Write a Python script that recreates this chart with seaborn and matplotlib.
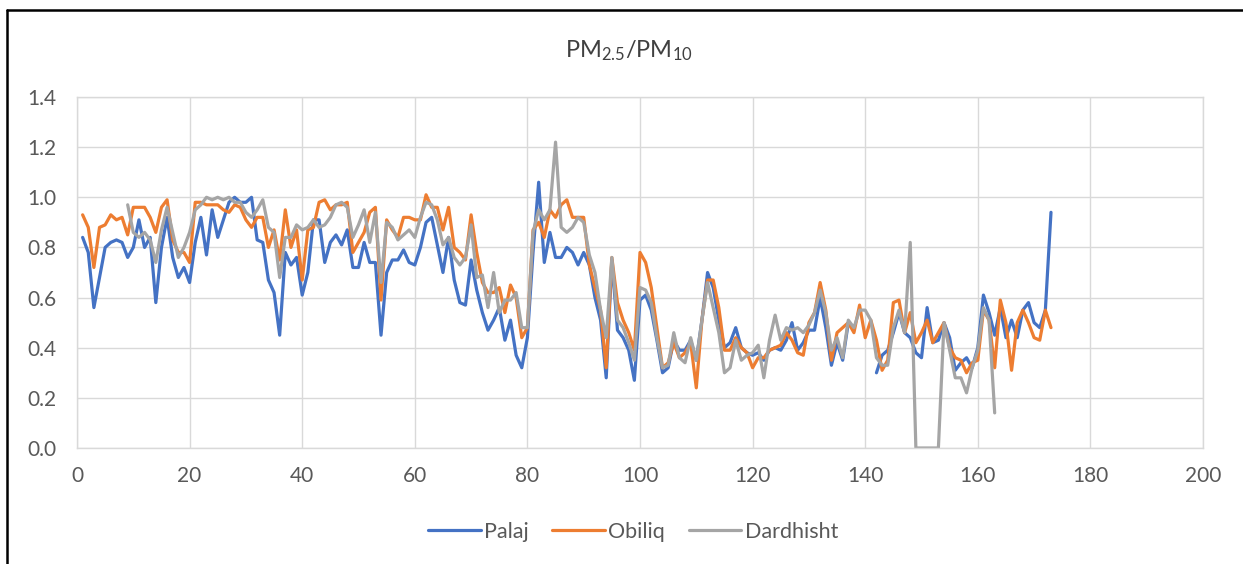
import numpy as np
import pandas as pd
import matplotlib
matplotlib.use("Agg")
import matplotlib.pyplot as plt
import seaborn as sns
from matplotlib.lines import Line2D

# ---------------- data ----------------
nan = np.nan
palaj_x = list(range(1, 174))
palaj = [0.84, 0.78, 0.56, 0.68, 0.80, 0.82, 0.83, 0.82, 0.76, 0.80,
         0.91, 0.80, 0.84, 0.58, 0.80, 0.92, 0.76, 0.68, 0.72, 0.66,
         0.82, 0.92, 0.77, 0.95, 0.84, 0.91, 0.98, 1.00, 0.98, 0.98,
         1.00, 0.83, 0.82, 0.67, 0.62, 0.45, 0.78, 0.73, 0.76, 0.61,
         0.70, 0.91, 0.91, 0.74, 0.82, 0.85, 0.81, 0.87, 0.72, 0.72,
         0.82, 0.74, 0.74, 0.45, 0.70, 0.75, 0.75, 0.79, 0.74, 0.73,
         0.80, 0.90, 0.92, 0.81, 0.70, 0.84, 0.67, 0.58, 0.57, 0.75,
         0.63, 0.54, 0.47, 0.51, 0.56, 0.43, 0.51, 0.37, 0.32, 0.44,
         0.78, 1.06, 0.74, 0.86, 0.76, 0.76, 0.80, 0.78, 0.73, 0.78,
         0.73, 0.60, 0.51, 0.28, 0.75, 0.47, 0.44, 0.39, 0.27, 0.59,
         0.61, 0.55, 0.43, 0.30, 0.32, 0.43, 0.39, 0.39, 0.43, 0.35,
         0.51, 0.70, 0.64, 0.51, 0.40, 0.42, 0.48, 0.40, 0.38, 0.37,
         0.38, 0.35, 0.39, 0.40, 0.39, 0.43, 0.50, 0.39, 0.42, 0.47,
         0.47, 0.60, 0.48, 0.33, 0.42, 0.35, 0.50, 0.47, nan, nan,
         nan, 0.30, 0.37, 0.39, 0.46, 0.54, 0.46, 0.44, 0.38, 0.36,
         0.56, 0.42, 0.43, 0.50, 0.44, 0.31, 0.34, 0.36, 0.32, 0.40,
         0.61, 0.54, 0.45, 0.56, 0.44, 0.51, 0.44, 0.55, 0.58, 0.50,
         0.48, 0.55, 0.94]

obiliq_x = list(range(1, 174))
obiliq = [0.93, 0.88, 0.72, 0.88, 0.89, 0.93, 0.91, 0.92, 0.85, 0.96,
          0.96, 0.96, 0.92, 0.86, 0.96, 0.99, 0.83, 0.78, 0.78, 0.74,
          0.98, 0.98, 0.97, 0.97, 0.97, 0.95, 0.94, 0.97, 0.96, 0.91,
          0.88, 0.92, 0.92, 0.80, 0.87, 0.75, 0.95, 0.80, 0.87, 0.67,
          0.87, 0.88, 0.98, 0.99, 0.95, 0.97, 0.97, 0.98, 0.78, 0.82,
          0.86, 0.94, 0.96, 0.59, 0.91, 0.87, 0.84, 0.92, 0.92, 0.91,
          0.91, 1.01, 0.96, 0.96, 0.87, 0.96, 0.80, 0.78, 0.75, 0.93,
          0.78, 0.66, 0.62, 0.62, 0.64, 0.54, 0.65, 0.60, 0.44, 0.48,
          0.87, 0.90, 0.84, 0.95, 0.92, 0.97, 0.99, 0.92, 0.92, 0.92,
          0.73, 0.64, 0.55, 0.32, 0.76, 0.58, 0.51, 0.46, 0.39, 0.78,
          0.74, 0.64, 0.48, 0.32, 0.34, 0.42, 0.36, 0.38, 0.42, 0.24,
          0.51, 0.67, 0.67, 0.56, 0.39, 0.39, 0.44, 0.40, 0.38, 0.32,
          0.36, 0.36, 0.39, 0.40, 0.41, 0.46, 0.43, 0.38, 0.37, 0.50,
          0.54, 0.66, 0.55, 0.35, 0.46, 0.48, 0.50, 0.46, 0.57, 0.44,
          0.51, 0.43, 0.31, 0.35, 0.58, 0.59, 0.46, 0.54, 0.42, 0.46,
          0.51, 0.42, 0.46, 0.50, 0.40, 0.36, 0.35, 0.30, 0.34, 0.35,
          0.55, 0.51, 0.32, 0.59, 0.50, 0.31, 0.50, 0.55, 0.50, 0.44,
          0.43, 0.55, 0.48]

dardhisht_x = list(range(9, 164))
dardhisht = [0.97, 0.86, 0.84, 0.86, 0.83, 0.74, 0.87, 0.96, 0.86, 0.76,
             0.80, 0.86, 0.95, 0.97, 1.00, 0.99, 1.00, 0.99, 1.00, 0.98,
             0.98, 0.94, 0.92, 0.95, 0.99, 0.88, 0.86, 0.68, 0.84, 0.84,
             0.89, 0.87, 0.88, 0.91, 0.88, 0.89, 0.92, 0.97, 0.98, 0.96,
             0.84, 0.89, 0.95, 0.82, 0.94, 0.66, 0.90, 0.88, 0.83, 0.85,
             0.87, 0.84, 0.92, 0.98, 0.97, 0.91, 0.81, 0.84, 0.76, 0.73,
             0.76, 0.89, 0.68, 0.69, 0.56, 0.70, 0.54, 0.59, 0.59, 0.62,
             0.48, 0.48, 0.86, 0.95, 0.91, 0.95, 1.22, 0.88, 0.86, 0.88,
             0.92, 0.90, 0.77, 0.70, 0.55, 0.44, 0.76, 0.51, 0.48, 0.42,
             0.35, 0.64, 0.63, 0.58, 0.44, 0.32, 0.33, 0.46, 0.36, 0.34,
             0.44, 0.35, 0.51, 0.66, 0.56, 0.46, 0.30, 0.32, 0.43, 0.35,
             0.37, 0.38, 0.41, 0.28, 0.43, 0.53, 0.43, 0.48, 0.47, 0.48,
             0.46, 0.49, 0.54, 0.63, 0.54, 0.39, 0.44, 0.36, 0.51, 0.48,
             0.55, 0.55, 0.51, 0.36, 0.33, 0.33, 0.48, 0.55, 0.46, 0.82,
             0.00, 0.00, 0.00, 0.00, 0.00, 0.50, 0.39, 0.28, 0.28, 0.22,
             0.32, 0.39, 0.56, 0.51, 0.14]

series_names = ["Palaj", "Obiliq", "Dardhisht"]
series_colors = ["#4472C4", "#ED7D31", "#A5A5A5"]

title_text = r"PM$_{2.5}$/PM$_{10}$"
x_ticks = [0, 20, 40, 60, 80, 100, 120, 140, 160, 180, 200]
y_ticks = [0.0, 0.2, 0.4, 0.6, 0.8, 1.0, 1.2, 1.4]


def to_frame(xs, ys, name):
    d = pd.DataFrame({"x": xs, "y": ys, "site": name})
    # a new segment starts after each missing value, so gaps stay gaps
    d["seg"] = name + d["y"].isna().cumsum().astype(str)
    return d.dropna()


df = pd.concat([
    to_frame(palaj_x, palaj, "Palaj"),
    to_frame(obiliq_x, obiliq, "Obiliq"),
    to_frame(dardhisht_x, dardhisht, "Dardhisht"),
], ignore_index=True)

sns.set_theme(style="white")
plt.rcParams["font.family"] = ["Lato", "DejaVu Sans"]
plt.rcParams["mathtext.fontset"] = "custom"
plt.rcParams["mathtext.rm"] = "Lato"
plt.rcParams["mathtext.it"] = "Lato"

fig = plt.figure(figsize=(12.43, 5.64), dpi=100)
ax = fig.add_axes([77 / 1243, 1 - 448 / 564, (1203 - 77) / 1243, (448 - 97) / 564])

sns.lineplot(data=df, x="x", y="y", hue="site", hue_order=series_names,
             units="seg", estimator=None, palette=series_colors,
             linewidth=2.3, ax=ax, legend=False, sort=False)

ax.set_xlim(0, 200)
ax.set_ylim(0, 1.4)
ax.set_xticks(x_ticks)
ax.set_yticks(y_ticks)
ax.set_yticklabels([f"{v:.1f}" for v in y_ticks])
ax.set_xlabel("")
ax.set_ylabel("")
ax.grid(True, color="#D9D9D9", linewidth=1.0)
ax.set_axisbelow(True)
for s in ax.spines.values():
    s.set_color("#D9D9D9")
    s.set_linewidth(1.0)
ax.tick_params(axis="both", length=0, labelsize=15, colors="#595959")
ax.tick_params(axis="y", pad=15)
ax.tick_params(axis="x", pad=13)

fig.text(629 / 1243, 1 - 57 / 564, title_text, ha="center", va="baseline",
         fontsize=17, color="#404040")

handles = [Line2D([0], [0], color=c, linewidth=2.3) for c in series_colors]
fig.legend(handles, series_names, loc="center", bbox_to_anchor=(633 / 1243, 1 - 532 / 564),
           ncol=3, frameon=False, fontsize=15.5, handlelength=2.45, columnspacing=1.1,
           handletextpad=0.15, labelcolor="#595959")

# outer black frame (left and top edges visible)
fig.add_artist(Line2D([7 / 1243, 7 / 1243], [0, 1 - 10 / 564], color="black", linewidth=1.8,
                      transform=fig.transFigure))
fig.add_artist(Line2D([7 / 1243, 1], [1 - 10 / 564, 1 - 10 / 564], color="black", linewidth=1.8,
                      transform=fig.transFigure))

fig.savefig("out.png", dpi=100)
